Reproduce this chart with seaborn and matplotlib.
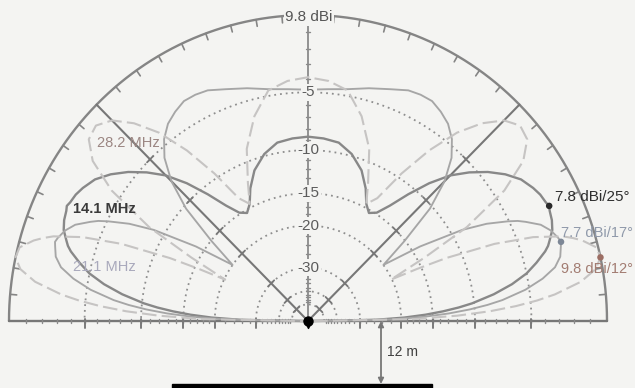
import numpy as np
import matplotlib
matplotlib.use("Agg")
import matplotlib.pyplot as plt
from matplotlib.patches import Rectangle
import seaborn as sns

# Elevation angles (degrees above the horizon) where the patterns are tabulated
elevation_deg = [0, 1, 2, 3, 4, 5, 6, 8, 10, 12, 14, 16, 17, 18, 20, 22, 24, 25, 26,
                 28, 30, 33, 36, 39, 42, 45, 48, 51, 54, 57, 60, 63, 66, 70, 75, 80, 85, 90]

# Gain in dBi of the dipole 12 m above ground, per band
gain_14mhz = [-60, -15.6, -9.6, -6.2, -3.8, -1.9, -0.4, 1.8, 3.5, 4.8, 5.7, 6.5, 6.8, 7.0,
              7.4, 7.6, 7.7, 7.8, 7.7, 7.6, 7.4, 7.0, 6.3, 5.4, 4.3, 3.0, 1.2, -1.0, -3.3,
              -5.0, -5.6, -4.7, -3.0, -1.3, 0.0, 0.8, 1.0, 1.1]
gain_21mhz = [-60, -12.5, -6.5, -3.1, -0.7, 1.1, 2.5, 4.5, 5.9, 6.9, 7.4, 7.6, 7.7, 7.6,
              7.3, 6.8, 5.9, 5.4, 4.7, 3.1, 0.9, -4.0, -10.2, -5.3, -0.5, 2.3, 4.1, 5.2, 5.9,
              6.3, 6.6, 6.6, 6.5, 6.1, 5.7, 5.3, 5.1, 5.0]
gain_28mhz = [-60, -8.0, -2.1, 1.3, 3.6, 5.3, 6.6, 8.4, 9.4, 9.8, 9.7, 9.0, 8.5, 7.9,
              6.0, 3.0, -1.9, -5.8, -10.4, -4.2, 1.4, 5.6, 7.8, 8.8, 9.0, 8.5, 7.4, 5.8, 3.4,
              0.3, -3.4, -4.7, -2.3, 1.0, 3.5, 5.2, 5.7, 5.9]

bands = ["14.1 MHz", "21.1 MHz", "28.2 MHz"]
peak_gain = [7.8, 7.7, 9.8]
peak_angle = [25, 17, 12]

max_gain = 9.8
ring_db = [5, 10, 15, 20, 30, 40, 50]          # dB below maximum, dotted rings
axis_db = [5, 10, 15, 20, 30]
axis_labels = ["-5", "-10", "-15", "-20", "-30"]
height_label = "12 m"

BG = "#f4f4f2"
sns.set_theme(style="white", rc={"axes.facecolor": BG, "figure.facecolor": BG})
plt.rcParams["font.family"] = ["Liberation Sans", "DejaVu Sans"]


def radius(down_db):
    """ARRL log-periodic scale: 0.89 per 2 dB."""
    return 0.89 ** (np.asarray(down_db, dtype=float) / 2.0)


def to_xy(angle_deg, gain_dbi):
    r = radius(max_gain - np.asarray(gain_dbi, dtype=float))
    t = np.radians(angle_deg)
    return r * np.cos(t), r * np.sin(t)


def full_pattern(gains):
    ang = list(elevation_deg) + [180 - a for a in reversed(elevation_deg[:-1])]
    g = list(gains) + list(reversed(gains[:-1]))
    return np.array(ang, dtype=float), np.array(g, dtype=float)


fig = plt.figure(figsize=(6.35, 3.88), dpi=100)
ax = fig.add_axes([0, 0, 1, 1])
ax.set_xlim(-308 / 299, 327 / 299)
ax.set_ylim(-67 / 306, 321 / 306)

half = np.radians(np.linspace(0, 180, 361))

# dotted gain rings
for d in ring_db:
    r = radius(d)
    ax.plot(r * np.cos(half), r * np.sin(half), color="#8e8e8e", lw=1.3,
            ls=(0, (1, 2.2)), zorder=1)

# outer ring and its 5-degree ticks
ax.plot(np.cos(half), np.sin(half), color="#858585", lw=1.7, zorder=2)
for a in range(5, 180, 5):
    if a in (45, 90, 135):
        continue
    t = np.radians(a)
    ax.plot([np.cos(t), 0.978 * np.cos(t)], [np.sin(t), 0.978 * np.sin(t)],
            color="#858585", lw=1.2, zorder=2)

# ground line
ax.plot([-1, 1], [0, 0], color="#777777", lw=1.7, zorder=2)

# 45-degree guide lines with cross ticks
for a in (45, 135):
    t = np.radians(a)
    ax.plot([0, np.cos(t)], [0, np.sin(t)], color="#777777", lw=1.5, zorder=2)
    for d in ring_db:
        r = radius(d)
        cx, cy = r * np.cos(t), r * np.sin(t)
        px, py = -np.sin(t) * 0.014, np.cos(t) * 0.014
        ax.plot([cx - px, cx + px], [cy - py, cy + py], color="#777777", lw=1.3, zorder=2)

# vertical axis with 1 dB / 2 dB ticks
ax.plot([0, 0], [0, 1], color="#8a8a8a", lw=1.3, zorder=2)
minor_db = list(range(1, 20)) + list(range(22, 50, 2))
for d in minor_db:
    r = float(radius(d))
    ax.plot([-0.008, 0.008], [r, r], color="#8a8a8a", lw=1.0, zorder=2)
    for s in (-1, 1):
        ax.plot([s * r, s * r], [-0.007, 0.007], color="#8a8a8a", lw=1.0, zorder=2)
for d in axis_db:
    r = float(radius(d))
    for s in (-1, 1):
        ax.plot([s * r, s * r], [0.006, -0.022], color="#7a7a7a", lw=1.4, zorder=2)

# radiation patterns
styles = {
    "14.1 MHz": dict(color="#888888", lw=1.7, ls="-"),
    "21.1 MHz": dict(color="#a6a6a6", lw=1.35, ls="-"),
    "28.2 MHz": dict(color="#c6c4c3", lw=1.5, ls=(0, (7, 2.5))),
}
for band, gains in zip(bands, [gain_14mhz, gain_21mhz, gain_28mhz]):
    ang, g = full_pattern(gains)
    x, y = to_xy(ang, g)
    sns.lineplot(x=x, y=y, sort=False, estimator=None, ax=ax, zorder=3,
                 **styles[band])

# peak markers
pk_x, pk_y = to_xy(peak_angle, peak_gain)
peak_colors = ["#2a2a2a", "#7d8796", "#9c6e64"]
sns.scatterplot(x=pk_x, y=pk_y, hue=bands, palette=peak_colors, s=22,
                edgecolor="none", legend=False, ax=ax, zorder=5)

# axis value labels
for d, lab in zip(axis_db, axis_labels):
    ax.text(0.002, float(radius(d)), lab, ha="center", va="center", fontsize=11,
            color="#5c5c5c", zorder=6,
            bbox=dict(boxstyle="square,pad=0.08", fc=BG, ec="none"))
ax.text(0.003, 0.993, f"{max_gain:.1f} dBi", ha="center", va="center", fontsize=11,
        color="#555555", zorder=6,
        bbox=dict(boxstyle="square,pad=0.1", fc=BG, ec="none"))

# band labels
ax.text(-0.706, 0.582, bands[2], ha="left", va="center", fontsize=10.5,
        color="#9b8682", zorder=6)
ax.text(-0.786, 0.366, bands[0], ha="left", va="center", fontsize=10.5,
        color="#3a3a3a", fontweight="bold", zorder=6)
ax.text(-0.786, 0.176, bands[1], ha="left", va="center", fontsize=10.5,
        color="#a9a9bc", zorder=6)

# peak labels
peak_text_pos = [(0.826, 0.405), (0.846, 0.288), (0.846, 0.170)]
peak_text_col = ["#2e2e2e", "#8f99aa", "#a27c72"]
peak_text_size = [11, 10.5, 10.5]
for (tx, ty), g, a, c, fs in zip(peak_text_pos, peak_gain, peak_angle,
                                 peak_text_col, peak_text_size):
    ax.text(tx, ty, f"{g:.1f} dBi/{a}°", ha="left", va="center", fontsize=fs,
            color=c, zorder=6)

# antenna at the origin
ax.scatter([0], [0.0], s=42, c="black", zorder=7)
ax.scatter([0], [-0.014], marker="v", s=18, c="black", zorder=7)

# height dimension and ground
hx = (381 - 308) / 299
ground_y = (321 - 384) / 306
ax.annotate("", xy=(hx, 0.0), xytext=(hx, ground_y),
            arrowprops=dict(arrowstyle="<|-|>", color="#777777", lw=1.3,
                            mutation_scale=8, shrinkA=0, shrinkB=0), zorder=4)
ax.text(0.264, -0.101, height_label, ha="left", va="center", fontsize=10,
        color="#404040", zorder=6)
ax.add_patch(Rectangle(((172 - 308) / 299, ground_y - 0.05), (432 - 172) / 299, 0.05,
                       color="black", zorder=4))

ax.axis("off")
fig.savefig("out.png", dpi=100, facecolor=BG)
